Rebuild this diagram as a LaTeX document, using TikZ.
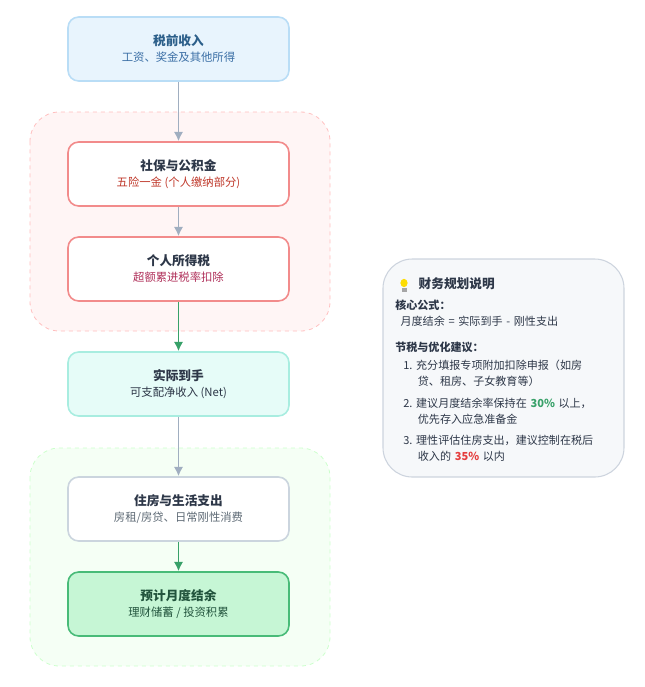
\documentclass[tikz,border=0pt]{standalone}
\usepackage{fontspec}
\setmainfont{Noto Sans CJK SC}
\usetikzlibrary{positioning,arrows.meta}
\definecolor{arrgray}{HTML}{A0AEC0}
\definecolor{arrgreen}{HTML}{38A169}
\definecolor{txtdark}{HTML}{2D3748}
\tikzset{flowbox/.style={rounded corners=8pt,line width=1.2pt,minimum width=221*0.75pt,minimum height=64*0.75pt,align=center,font=\fontsize{8.5}{12}\selectfont},
  flowgroup/.style={rounded corners=22pt,dashed,line width=0.6pt},
  flowarrow/.style={line width=1.3pt,arrgray,-{Latex[length=7pt,width=7pt]}},
  flowarrowgreen/.style={line width=1.3pt,arrgreen,-{Latex[length=7pt,width=7pt]}}}
\newcommand{\boxtitle}[1]{{\bfseries\fontsize{9.5}{13}\selectfont #1}}
\begin{document}
\begin{tikzpicture}[x=0.75pt,y=-0.75pt]
\useasboundingbox (0,0) rectangle (645,687);
% groups
\draw[flowgroup,draw=red!25,fill=red!4] (30,112) rectangle (330,331);
\draw[flowgroup,draw=green!20,fill=green!4] (30,448) rectangle (330,666);
% flow boxes
\node[flowbox,draw={rgb,255:red,185;green,221;blue,246},fill={rgb,255:red,232;green,244;blue,253}] (gross) at (178.5,49) {\color[HTML]{2C5F8A}\boxtitle{税前收入}\\\color[HTML]{3A6EA5}工资、奖金及其他所得};
\node[flowbox,draw={rgb,255:red,242;green,139;blue,139},fill=white] (insur) at (178.5,174) {\color{txtdark}\boxtitle{社保与公积金}\\\color[HTML]{C0392B}五险一金 (个人缴纳部分)};
\node[flowbox,draw={rgb,255:red,242;green,139;blue,139},fill=white] (tax) at (178.5,269) {\color{txtdark}\boxtitle{个人所得税}\\\color[HTML]{B0305A}超额累进税率扣除};
\node[flowbox,draw={rgb,255:red,168;green,237;blue,224},fill={rgb,255:red,230;green,252;blue,248}] (net) at (178.5,384) {\color{txtdark}\boxtitle{实际到手}\\\color{txtdark}可支配净收入 (Net)};
\node[flowbox,draw={rgb,255:red,203;green,213;blue,222},fill=white] (house) at (178.5,509) {\color{txtdark}\boxtitle{住房与生活支出}\\\color[HTML]{5F6B76}房租/房贷、日常刚性消费};
\node[flowbox,draw={rgb,255:red,72;green,187;blue,120},fill={rgb,255:red,198;green,246;blue,213}] (saving) at (178.5,604) {\color[HTML]{22543D}\boxtitle{预计月度结余}\\\color[HTML]{22543D}理财储蓄 / 投资积累};
% connectors
\draw[flowarrow] (gross) -- (insur);
\draw[flowarrow] (insur) -- (tax);
\draw[flowarrowgreen] (tax) -- (net);
\draw[flowarrow] (net) -- (house);
\draw[flowarrowgreen] (house) -- (saving);
% notes panel
\draw[rounded corners=22pt,line width=0.8pt,draw={rgb,255:red,205;green,212;blue,222},fill={rgb,255:red,246;green,248;blue,250}] (383,259) rectangle (624,477);
\fill[yellow!80!orange] (404,283) ellipse (3.6 and 4.2);
\fill[gray!70] (401.5,288) rectangle (406.5,292);
\node[anchor=west,font=\bfseries\fontsize{9.5}{12}\selectfont,text=txtdark] (ntitle) at (414,284) {财务规划说明};
\node[anchor=north west,align=left,font=\fontsize{8.3}{12}\selectfont,text=txtdark,text width=228*0.75pt,inner sep=0pt] (nbody) at (395,300) {%
{\bfseries 核心公式：}\\
\hspace*{4pt}月度结余 = 实际到手 - 刚性支出\\[7pt]
{\bfseries 节税与优化建议：}\\[2pt]
\hspace*{6pt}1.~充分填报专项附加扣除申报（如房\\
\hspace*{17pt}贷、租房、子女教育等）\\[4pt]
\hspace*{6pt}2.~建议月度结余率保持在 {\bfseries\color[HTML]{38A169}30\%} 以上，\\
\hspace*{17pt}优先存入应急准备金\\[4pt]
\hspace*{6pt}3.~理性评估住房支出，建议控制在税后\\
\hspace*{17pt}收入的 {\bfseries\color[HTML]{E53E3E}35\%} 以内};
\end{tikzpicture}
\end{document}
